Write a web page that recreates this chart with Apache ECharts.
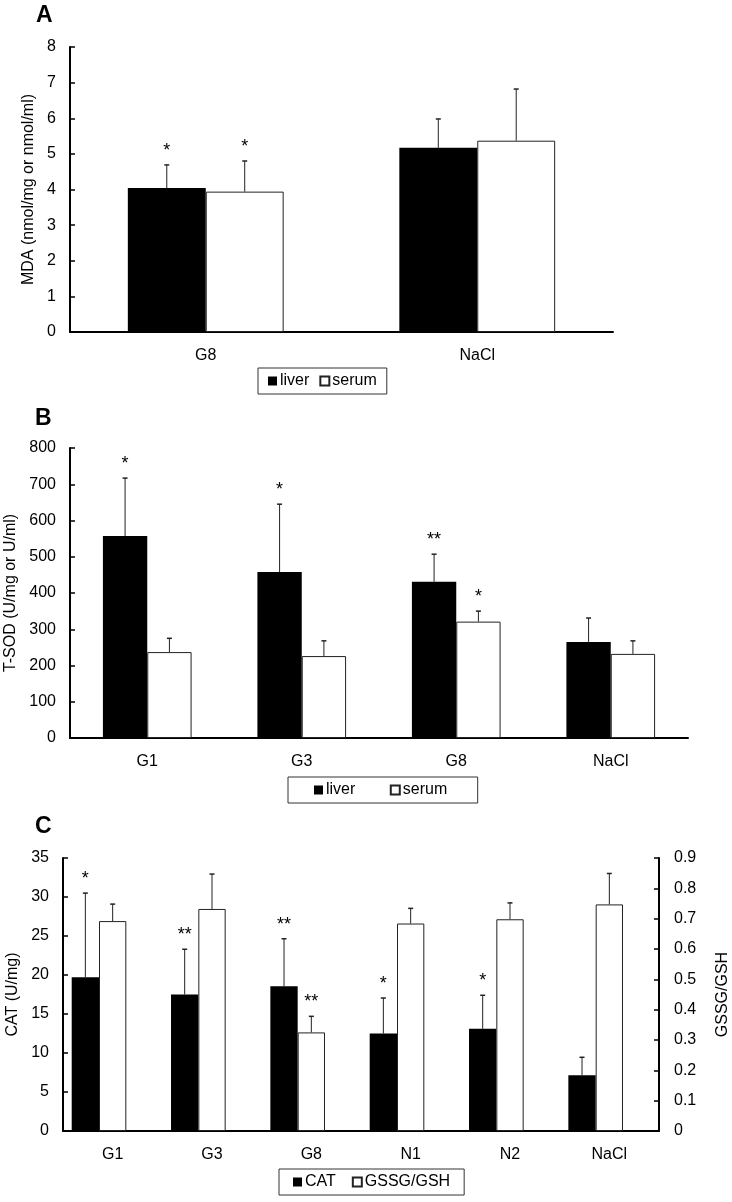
<!DOCTYPE html>
<html lang="en">
<head>
    <meta charset="UTF-8">
    <title>MDA / T-SOD / CAT</title>
    <script src="https://cdn.jsdelivr.net/npm/echarts@6/dist/echarts.min.js"></script>
    <style>
        html, body { margin: 0; padding: 0; background: #fff; }
        #chart { width: 732px; height: 1202px; }
    </style>
</head>
<body>
<div id="chart"></div>
<script type="text/javascript">
    // panel A - MDA
    var catA = ['G8', 'NaCl'];
    var mdaLiver = [4.04, 5.17];
    var mdaLiverSd = [0.65, 0.81];
    var mdaSerum = [3.94, 5.37];
    var mdaSerumSd = [0.86, 1.45];
    var starsA_liver = ['*', ''];
    var starsA_serum = ['*', ''];

    // panel B - T-SOD
    var catB = ['G1', 'G3', 'G8', 'NaCl'];
    var sodLiver = [557, 458, 431, 265];
    var sodLiverSd = [160, 187, 76, 66];
    var sodSerum = [237, 226, 321, 232];
    var sodSerumSd = [38, 42, 29, 36];
    var starsB_liver = ['*', '*', '**', ''];
    var starsB_serum = ['', '', '*', ''];

    // panel C - CAT and GSSG/GSH
    var catC = ['G1', 'G3', 'G8', 'N1', 'N2', 'NaCl'];
    var catVal = [19.7, 17.5, 18.55, 12.5, 13.1, 7.15];
    var catSd = [10.8, 5.8, 6.1, 4.55, 4.3, 2.3];
    var gssg = [0.692, 0.732, 0.325, 0.684, 0.698, 0.747];
    var gssgSd = [0.056, 0.115, 0.053, 0.05, 0.054, 0.102];
    var starsC_cat = ['*', '**', '**', '*', '*', ''];
    var starsC_gssg = ['', '', '**', '', '', ''];

    var FONT = '"Liberation Sans", Arial, sans-serif';

    function errData(mean, sd) {
        return mean.map(function (m, i) { return [i, m, m + sd[i]]; });
    }

    // offset = position of the bar centre from the category centre, as a fraction of the band
    function errRender(offset, stars) {
        return function (params, api) {
            var i = api.value(0);
            var lo = api.coord([i, api.value(1)]);
            var hi = api.coord([i, api.value(2)]);
            var band = api.size([1, 0])[0];
            var x = lo[0] + offset * band;
            var kids = [
                {type: 'line', shape: {x1: x, y1: lo[1], x2: x, y2: hi[1]}, style: {stroke: '#222', lineWidth: 1}},
                {type: 'line', shape: {x1: x - 2.5, y1: hi[1], x2: x + 2.5, y2: hi[1]}, style: {stroke: '#222', lineWidth: 1.5}}
            ];
            if (stars[i]) {
                kids.push({
                    type: 'text', x: x, y: hi[1] - 14,
                    style: {text: stars[i], fontSize: 18, fontFamily: FONT, fill: '#000', align: 'center', verticalAlign: 'middle'}
                });
            }
            return {type: 'group', children: kids};
        };
    }

    function xAxis(gi, data) {
        return {
            type: 'category', gridIndex: gi, data: data,
            axisLine: {lineStyle: {color: '#000', width: 2}},
            axisTick: {inside: true, length: 5, lineStyle: {color: '#000', width: 1.5}},
            axisLabel: {color: '#000', fontSize: 16, fontFamily: FONT, margin: 16}
        };
    }

    function yAxis(gi, max, step, name, gap, pos) {
        return {
            type: 'value', gridIndex: gi, min: 0, max: max, interval: step,
            position: pos || 'left',
            name: name, nameLocation: 'middle', nameGap: gap,
            nameTextStyle: {color: '#000', fontSize: 16, fontFamily: FONT},
            axisLine: {show: true, lineStyle: {color: '#000', width: 2}},
            axisTick: {show: true, inside: true, length: 5, lineStyle: {color: '#000', width: 1.5}},
            axisLabel: {color: '#000', fontSize: 16, fontFamily: FONT, margin: pos === 'right' ? 15 : 14},
            splitLine: {show: false}
        };
    }

    var black = {color: '#000'};
    var white = {color: '#fff', borderColor: '#222', borderWidth: 1};

    function legend(left, top, names, pad, gap) {
        return {
            left: left, top: top, data: names,
            orient: 'horizontal', icon: 'rect',
            padding: pad, itemGap: gap,
            itemWidth: 9, itemHeight: 9,
            borderColor: '#333', borderWidth: 1,
            textStyle: {color: '#000', fontSize: 16, fontFamily: FONT, padding: [0, 0, 0, -2]}
        };
    }

    function letter(t, left, top) {
        return {text: t, left: left, top: top, padding: 0,
            textStyle: {fontSize: 23, fontWeight: 'bold', fontFamily: FONT, color: '#000'}};
    }

    var wAB = 0.287;
    var wC = 0.275;

    var option = {
        backgroundColor: '#fff',
        animation: false,
        title: [letter('A', 36, 4), letter('B', 35, 407), letter('C', 35, 815)],
        legend: [
            legend(258, 368, ['liver', 'serum'], [5, 10], 10),
            legend(288, 777, ['liver ', 'serum '], [5, 26], 30),
            legend(279, 1169, ['CAT', 'GSSG/GSH'], [5, 14], 16)
        ],
        grid: [
            {left: 70, top: 47, width: 543, height: 285, outerBoundsMode: 'none'},
            {left: 70, top: 448, width: 618, height: 290, outerBoundsMode: 'none'},
            {left: 63, top: 858, width: 596, height: 273, outerBoundsMode: 'none'}
        ],
        xAxis: [xAxis(0, catA), xAxis(1, catB), xAxis(2, catC)],
        yAxis: [
            yAxis(0, 8, 1, 'MDA (nmol/mg or nmol/ml)', 32),
            yAxis(1, 800, 100, 'T-SOD (U/mg or U/ml)', 49),
            yAxis(2, 35, 5, 'CAT (U/mg)', 42),
            yAxis(2, 0.9, 0.1, 'GSSG/GSH', 56, 'right')
        ],
        series: [
            // A
            {name: 'liver', type: 'bar', xAxisIndex: 0, yAxisIndex: 0, data: mdaLiver, barWidth: (wAB * 100) + '%', barGap: 0, itemStyle: black},
            {name: 'serum', type: 'bar', xAxisIndex: 0, yAxisIndex: 0, data: mdaSerum, barWidth: (wAB * 100) + '%', barGap: 0, itemStyle: white},
            {type: 'custom', xAxisIndex: 0, yAxisIndex: 0, z: 5, data: errData(mdaLiver, mdaLiverSd), encode: {x: 0, y: [1, 2]}, renderItem: errRender(-wAB / 2, starsA_liver)},
            {type: 'custom', xAxisIndex: 0, yAxisIndex: 0, z: 5, data: errData(mdaSerum, mdaSerumSd), encode: {x: 0, y: [1, 2]}, renderItem: errRender(wAB / 2, starsA_serum)},
            // B
            {name: 'liver ', type: 'bar', xAxisIndex: 1, yAxisIndex: 1, data: sodLiver, barWidth: (wAB * 100) + '%', barGap: 0, itemStyle: black},
            {name: 'serum ', type: 'bar', xAxisIndex: 1, yAxisIndex: 1, data: sodSerum, barWidth: (wAB * 100) + '%', barGap: 0, itemStyle: white},
            {type: 'custom', xAxisIndex: 1, yAxisIndex: 1, z: 5, data: errData(sodLiver, sodLiverSd), encode: {x: 0, y: [1, 2]}, renderItem: errRender(-wAB / 2, starsB_liver)},
            {type: 'custom', xAxisIndex: 1, yAxisIndex: 1, z: 5, data: errData(sodSerum, sodSerumSd), encode: {x: 0, y: [1, 2]}, renderItem: errRender(wAB / 2, starsB_serum)},
            // C  (third empty bar keeps the pair shifted left like the original)
            {name: 'CAT', type: 'bar', xAxisIndex: 2, yAxisIndex: 2, data: catVal, barWidth: (wC * 100) + '%', barGap: 0, itemStyle: black},
            {name: 'GSSG/GSH', type: 'bar', xAxisIndex: 2, yAxisIndex: 3, data: gssg, barWidth: (wC * 100) + '%', barGap: 0, itemStyle: white},
            {name: 'pad', type: 'bar', xAxisIndex: 2, yAxisIndex: 2, data: [], barWidth: (wC * 100) + '%', barGap: 0},
            {type: 'custom', xAxisIndex: 2, yAxisIndex: 2, z: 5, data: errData(catVal, catSd), encode: {x: 0, y: [1, 2]}, renderItem: errRender(-wC, starsC_cat)},
            {type: 'custom', xAxisIndex: 2, yAxisIndex: 3, z: 5, data: errData(gssg, gssgSd), encode: {x: 0, y: [1, 2]}, renderItem: errRender(0, starsC_gssg)}
        ]
    };

    var myChart = echarts.init(document.getElementById('chart'));
    myChart.setOption(option);
</script>
</body>
</html>
